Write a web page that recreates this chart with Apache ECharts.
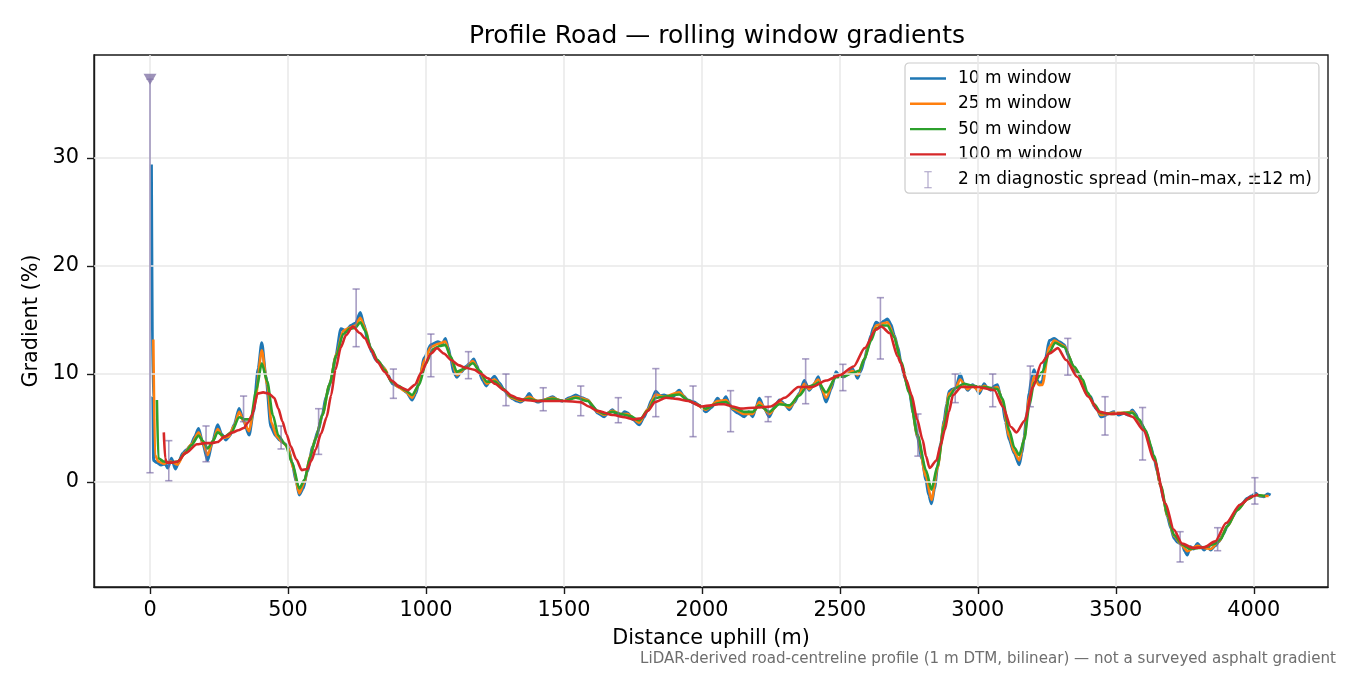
<!DOCTYPE html>
<html>
<head>
<meta charset="utf-8">
<script src="https://cdn.jsdelivr.net/npm/echarts@6/dist/echarts.min.js"></script>
<style>html,body{margin:0;padding:0;background:#fff}#c{width:1350px;height:675px}</style>
</head>
<body>
<div id="c"></div>
<script>
// ---- data (distance m, gradient %) ----
const win10 = [[5,29.4],[10,8],[13,2.0],[25,1.8],[40,1.57],[55,1.7],[64,1.3],[78,2.2],[92,1.2],[105,1.9],[118,2.65],[133,3.0],[148,3.4],[162,4.2],[176,4.95],[192,3.5],[209,2.0],[225,3.6],[245,5.3],[260,4.4],[275,3.9],[290,4.3],[305,5.3],[323,6.8],[340,5.6],[359,4.35],[375,6.5],[392,10.5],[405,12.9],[420,9.8],[438,5.1],[455,4.3],[469,3.9],[485,3.6],[499,3.3],[515,1.8],[530,0.0],[541,-1.2],[555,-0.6],[570,1.0],[590,3.3],[610,4.8],[625,6.3],[638,7.9],[656,9.4],[672,11.5],[692,14.2],[710,14.0],[728,14.5],[745,14.7],[762,15.7],[775,14.6],[789,13.1],[804,12.0],[819,11.3],[832,11.0],[843,10.7],[860,10.0],[879,9.1],[895,8.9],[910,8.7],[930,8.3],[950,7.6],[963,8.2],[976,9.4],[994,11.5],[1018,12.7],[1043,13.0],[1060,12.8],[1070,13.3],[1080,12.5],[1091,11.3],[1100,10.2],[1112,9.7],[1128,10.2],[1145,10.7],[1160,11.0],[1173,11.4],[1184,10.8],[1194,10.1],[1206,9.4],[1218,8.9],[1233,9.4],[1248,9.8],[1265,9.2],[1284,8.5],[1300,8.0],[1314,7.7],[1330,7.5],[1344,7.4],[1360,7.7],[1374,8.2],[1390,7.6],[1404,7.4],[1430,7.6],[1459,7.9],[1478,7.6],[1495,7.5],[1520,7.8],[1543,8.05],[1565,7.8],[1586,7.6],[1605,7.0],[1622,6.4],[1646,6.05],[1660,6.4],[1676,6.7],[1690,6.3],[1706,6.2],[1720,6.5],[1731,6.4],[1750,5.8],[1773,5.3],[1790,6.0],[1803,6.7],[1818,7.6],[1833,8.4],[1848,8.0],[1863,8.05],[1890,7.8],[1918,8.5],[1933,8.0],[1948,7.6],[1972,7.4],[1990,7.1],[2014,6.5],[2035,6.9],[2057,7.75],[2072,7.3],[2087,7.9],[2100,7.2],[2112,6.7],[2130,6.4],[2154,6.05],[2170,6.5],[2184,6.05],[2195,6.8],[2208,7.75],[2225,6.9],[2244,6.05],[2262,6.9],[2281,7.6],[2300,7.2],[2317,6.7],[2335,7.4],[2353,8.2],[2371,9.4],[2389,8.5],[2405,9.0],[2422,9.75],[2435,8.5],[2450,7.4],[2468,8.6],[2486,10.2],[2500,9.8],[2516,9.75],[2530,10.0],[2546,10.5],[2556,10.0],[2564,9.6],[2576,10.3],[2589,11.3],[2600,12.4],[2613,13.6],[2622,14.3],[2631,14.8],[2645,14.6],[2660,14.9],[2673,15.1],[2685,14.6],[2697,13.6],[2710,12.5],[2722,11.0],[2736,9.6],[2751,8.5],[2766,6.4],[2781,4.2],[2797,2.2],[2812,0.2],[2822,-1.2],[2832,-2.0],[2843,-0.6],[2854,1.4],[2866,3.6],[2878,5.7],[2887,7.2],[2896,8.4],[2908,8.6],[2920,8.7],[2936,10.0],[2950,9.0],[2963,8.5],[2981,9.0],[2993,8.7],[3005,8.2],[3023,9.1],[3035,8.7],[3047,8.5],[3060,8.9],[3071,9.0],[3080,8.2],[3089,7.3],[3100,5.6],[3114,3.9],[3132,2.65],[3150,1.6],[3160,2.7],[3168,4.2],[3177,6.2],[3186,8.2],[3196,9.8],[3204,10.4],[3216,9.4],[3225,9.0],[3234,9.4],[3246,11.5],[3259,13.1],[3277,13.3],[3295,13.0],[3313,12.7],[3330,11.6],[3349,10.4],[3367,10.0],[3382,8.8],[3397,8.05],[3409,7.9],[3422,7.0],[3433,6.67],[3446,6.05],[3457,6.1],[3470,6.3],[3494,6.5],[3510,6.2],[3530,6.36],[3545,6.2],[3560,6.67],[3572,6.3],[3584,5.6],[3596,5.2],[3608,4.66],[3625,3.4],[3639,2.2],[3650,1.0],[3663,-0.43],[3675,-1.8],[3687,-3.2],[3700,-4.3],[3711,-5.2],[3725,-5.6],[3741,-5.8],[3750,-6.4],[3759,-6.76],[3770,-6.0],[3782,-6.2],[3796,-5.7],[3808,-6.0],[3820,-6.3],[3832,-6.0],[3844,-6.3],[3860,-5.9],[3874,-5.5],[3890,-4.8],[3904,-4.1],[3920,-3.3],[3940,-2.6],[3958,-2.0],[3977,-1.5],[3992,-1.3],[4007,-1.05],[4020,-1.3],[4037,-1.36],[4050,-1.1],[4061,-1.2]];

const win25 = [[12,13.2],[18,2.5],[30,1.9],[50,1.7],[75,1.9],[100,1.6],[125,2.7],[150,3.5],[176,4.6],[192,3.6],[209,2.5],[228,3.8],[245,4.9],[265,4.1],[285,4.2],[305,5.2],[323,6.5],[340,5.6],[359,4.7],[380,7.3],[405,12.2],[425,9.0],[440,5.5],[460,4.2],[480,3.7],[500,3.2],[520,1.2],[541,-1.05],[560,0.0],[580,2.4],[600,4.0],[625,6.2],[650,9.0],[675,11.8],[700,14.0],[725,14.3],[745,14.5],[762,15.2],[780,14.2],[800,12.3],[825,11.2],[850,10.5],[875,9.3],[900,8.8],[925,8.4],[950,7.8],[970,8.8],[994,11.3],[1018,12.5],[1045,12.8],[1070,13.0],[1090,11.5],[1112,9.9],[1140,10.5],[1170,11.2],[1195,10.2],[1220,9.1],[1248,9.5],[1280,8.6],[1310,7.8],[1344,7.5],[1374,7.9],[1404,7.5],[1459,7.8],[1495,7.5],[1543,7.9],[1586,7.6],[1622,6.5],[1646,6.2],[1676,6.6],[1706,6.3],[1731,6.3],[1773,5.5],[1803,6.7],[1833,8.1],[1863,7.9],[1918,8.3],[1948,7.6],[1972,7.3],[2014,6.7],[2057,7.5],[2087,7.6],[2112,6.8],[2154,6.3],[2184,6.3],[2208,7.4],[2244,6.3],[2281,7.4],[2317,6.9],[2353,8.1],[2371,9.1],[2389,8.6],[2422,9.5],[2450,7.8],[2486,9.9],[2516,9.8],[2546,10.3],[2564,9.9],[2589,11.4],[2613,13.4],[2631,14.5],[2673,14.8],[2697,13.5],[2722,11.0],[2751,8.4],[2781,4.3],[2812,0.5],[2832,-1.67],[2854,1.3],[2878,5.5],[2896,8.2],[2920,8.7],[2936,9.5],[2963,8.6],[2981,8.9],[3005,8.4],[3023,8.9],[3047,8.6],[3071,8.8],[3089,7.5],[3114,4.2],[3132,2.8],[3150,2.0],[3168,4.0],[3186,7.8],[3204,9.8],[3220,9.0],[3234,9.0],[3259,12.5],[3277,13.1],[3313,12.6],[3349,10.6],[3367,10.0],[3397,8.2],[3422,7.1],[3446,6.2],[3494,6.4],[3530,6.4],[3560,6.5],[3584,5.7],[3608,4.7],[3639,2.3],[3663,-0.4],[3687,-3.1],[3711,-5.0],[3741,-5.9],[3759,-6.4],[3796,-5.9],[3820,-6.1],[3844,-6.2],[3874,-5.5],[3904,-4.1],[3940,-2.6],[3977,-1.6],[4007,-1.2],[4037,-1.3],[4054,-1.3]];

const win50 = [[25,7.6],[30,2.2],[50,1.9],[75,1.8],[100,1.9],[125,2.6],[150,3.4],[176,4.3],[192,3.8],[209,3.1],[228,3.8],[245,4.6],[270,4.2],[295,4.6],[323,6.0],[345,5.8],[365,5.8],[385,8.5],[405,11.0],[425,9.3],[445,6.2],[465,4.3],[490,3.5],[515,1.8],[541,-0.6],[560,0.2],[580,2.3],[600,4.0],[625,6.2],[650,9.0],[675,11.7],[700,13.7],[725,14.2],[745,14.3],[762,14.8],[780,14.0],[800,12.4],[825,11.3],[850,10.4],[875,9.3],[900,8.9],[925,8.5],[950,8.06],[975,9.0],[1000,11.0],[1025,12.3],[1050,12.6],[1070,12.7],[1090,11.6],[1112,10.2],[1140,10.5],[1170,11.0],[1195,10.3],[1220,9.3],[1250,9.3],[1280,8.6],[1310,7.9],[1344,7.6],[1374,7.7],[1404,7.5],[1460,7.7],[1500,7.5],[1543,7.8],[1586,7.5],[1622,6.6],[1646,6.3],[1676,6.5],[1706,6.3],[1740,6.1],[1773,5.7],[1803,6.6],[1833,7.8],[1863,7.9],[1918,8.1],[1948,7.6],[1980,7.2],[2014,6.8],[2057,7.3],[2087,7.4],[2112,6.9],[2154,6.5],[2184,6.5],[2208,7.1],[2244,6.5],[2281,7.2],[2317,7.1],[2353,8.0],[2380,8.8],[2410,9.0],[2422,9.2],[2450,8.3],[2486,9.7],[2516,9.8],[2546,10.1],[2570,10.3],[2589,11.4],[2613,13.1],[2631,14.2],[2655,14.5],[2673,14.5],[2697,13.4],[2722,11.1],[2751,8.3],[2781,4.4],[2812,1.1],[2832,-0.7],[2854,1.5],[2878,5.2],[2896,7.9],[2920,8.7],[2950,9.1],[2981,8.9],[3023,8.8],[3071,8.6],[3089,7.7],[3114,4.8],[3132,3.2],[3150,2.5],[3168,3.9],[3186,7.0],[3204,9.2],[3234,10.2],[3259,12.0],[3280,12.9],[3313,12.5],[3349,10.7],[3380,9.5],[3397,8.3],[3422,7.2],[3446,6.4],[3494,6.3],[3530,6.4],[3560,6.4],[3584,5.8],[3608,4.8],[3639,2.4],[3663,-0.3],[3687,-3.0],[3711,-4.9],[3741,-5.8],[3770,-6.2],[3800,-6.1],[3830,-6.0],[3860,-5.7],[3880,-5.3],[3904,-4.1],[3940,-2.6],[3977,-1.6],[4007,-1.2],[4041,-1.3]];

const win100 = [[50,4.6],[55,2.2],[60,1.8],[80,1.8],[100,1.9],[130,2.7],[170,3.5],[200,3.6],[220,3.6],[245,3.7],[270,4.2],[300,4.6],[320,4.8],[340,5.0],[355,5.5],[370,6.2],[390,8.2],[410,8.3],[430,8.2],[450,7.8],[465,6.8],[480,5.6],[495,4.4],[510,3.3],[530,2.1],[550,1.1],[570,1.2],[585,2.0],[600,3.0],[620,4.5],[640,6.0],[656,8.0],[672,10.4],[692,12.5],[710,13.6],[735,14.4],[760,13.8],[780,13.3],[800,12.3],[825,11.1],[850,10.2],[875,9.4],[905,8.8],[934,8.5],[960,9.0],[982,10.1],[1018,11.9],[1040,12.4],[1065,11.9],[1091,11.3],[1120,10.8],[1140,10.6],[1175,10.4],[1200,10.0],[1225,9.6],[1250,9.1],[1284,8.5],[1310,8.0],[1332,7.75],[1360,7.6],[1400,7.5],[1450,7.5],[1500,7.5],[1560,7.4],[1590,7.0],[1620,6.6],[1680,6.2],[1720,6.0],[1750,5.8],[1780,5.9],[1805,6.6],[1830,7.4],[1870,7.8],[1910,7.7],[1950,7.5],[2000,7.0],[2033,7.1],[2060,7.2],[2080,7.2],[2110,7.0],[2140,6.8],[2200,6.9],[2250,7.0],[2300,7.8],[2350,8.8],[2400,8.8],[2450,9.4],[2500,9.9],[2550,10.7],[2590,12.4],[2630,14.1],[2650,14.4],[2680,13.8],[2710,11.6],[2721,11.0],[2740,9.5],[2760,8.05],[2780,5.8],[2800,3.9],[2812,2.4],[2825,1.3],[2850,2.0],[2865,3.4],[2880,4.8],[2895,6.5],[2910,8.05],[2940,8.8],[3000,8.8],[3060,8.5],[3090,7.0],[3120,5.1],[3140,4.6],[3170,5.7],[3200,8.8],[3230,11.0],[3260,11.9],[3290,12.4],[3320,11.3],[3360,9.75],[3400,7.9],[3440,6.5],[3480,6.3],[3530,6.36],[3560,6.05],[3600,4.8],[3640,2.0],[3680,-2.0],[3710,-4.4],[3740,-5.7],[3780,-6.1],[3820,-6.05],[3860,-5.5],[3900,-3.8],[3950,-2.1],[3990,-1.36],[4016,-1.14]];

// 2 m diagnostic spread: [distance, min, max]
const spread = [[0,0.86,37.3],[68,0.12,3.83],[203,1.88,5.19],[339,5.59,7.96],[475,3.06,5.19],[611,2.56,6.79],[747,12.53,17.87],[882,7.75,10.46],[1018,9.75,13.7],[1154,9.57,12.07],[1290,7.07,10.0],[1425,6.6,8.73],[1561,6.14,8.89],[1697,5.49,7.81],[1833,6.05,10.5],[1968,4.2,8.89],[2104,4.66,8.46],[2240,5.59,7.9],[2376,7.25,11.4],[2511,8.46,10.9],[2647,11.39,17.07],[2783,2.4,6.3],[2918,7.35,10.0],[3054,6.97,10.0],[3190,6.97,10.74],[3326,9.9,13.3],[3461,4.35,7.9],[3597,2.04,6.9],[3733,-7.4,-4.6],[3869,-6.36,-4.23],[4004,-2.04,0.4]];
const clipped = [[0,37.3]];

const xTicks = [0,500,1000,1500,2000,2500,3000,3500,4000];
const yTicks = [0,10,20,30];
const names = ['10 m window','25 m window','50 m window','100 m window','2 m diagnostic spread (min\u2013max, \u00b112 m)'];

const FONT = 'DejaVu Sans';
const SPREAD_COLOR = 'rgba(120,104,165,0.65)';
const LINE_ICON = 'path://M0,0h30v2h-30z';

const chart = echarts.init(document.getElementById('c'), null, {renderer:'canvas'});

function lineSeries(name, data, color, z, width) {
  return {
    name, type:'line', data, symbol:'none', smooth:0.25, smoothMonotone:'x',
    lineStyle:{color, width}, itemStyle:{color}, z, animation:false
  };
}

const option = {
  animation:false,
  backgroundColor:'#fff',
  textStyle:{fontFamily:FONT},
  title:{
    text:'Profile Road \u2014 rolling window gradients',
    left:464, top:19,
    textStyle:{fontFamily:FONT, fontSize:25, fontWeight:'normal', color:'#000'}
  },
  grid:{left:94, right:22, top:55, bottom:88, show:true, borderColor:'#1a1a1a', borderWidth:1.4, backgroundColor:'transparent'},
  xAxis:{
    type:'value', min:-203, max:4269,
    name:'Distance uphill (m)', nameLocation:'middle', nameGap:41,
    nameTextStyle:{fontFamily:FONT, fontSize:20.8, color:'#000'},
    axisLine:{show:true, onZero:false, lineStyle:{color:'#1a1a1a', width:1.4}},
    axisTick:{show:true, length:7, lineStyle:{color:'#1a1a1a', width:1.4}, customValues:xTicks},
    axisLabel:{fontFamily:FONT, fontSize:20.8, color:'#000', margin:13, customValues:xTicks, formatter:v=>String(v)},
    splitLine:{show:false}
  },
  yAxis:{
    type:'value', min:-9.72, max:39.54,
    name:'Gradient (%)', nameLocation:'middle', nameGap:51,
    nameTextStyle:{fontFamily:FONT, fontSize:20.8, color:'#000'},
    axisLine:{show:true, onZero:false, lineStyle:{color:'#1a1a1a', width:1.4}},
    axisTick:{show:true, length:7, lineStyle:{color:'#1a1a1a', width:1.4}, customValues:yTicks},
    axisLabel:{fontFamily:FONT, fontSize:20.8, color:'#000', margin:15, customValues:yTicks, formatter:v=>String(v)},
    splitLine:{show:false}
  },
  legend:{
    orient:'vertical', left:905, top:63,
    itemWidth:36, itemHeight:17, itemGap:8.3,
    padding:[7,7,5,5],
    symbolKeepAspect:true,
    backgroundColor:'rgba(255,255,255,0.85)', borderColor:'#cccccc', borderWidth:1.2, borderRadius:4,
    textStyle:{fontFamily:FONT, fontSize:17, color:'#000', padding:[0,0,0,7]},
    data:[
      {name:names[0], icon:LINE_ICON},{name:names[1], icon:LINE_ICON},{name:names[2], icon:LINE_ICON},{name:names[3], icon:LINE_ICON},
      {name:names[4], icon:'path://M0,0h7v1h-7z M3,1h1v14h-1z M0,15h7v1h-7z', itemStyle:{color:SPREAD_COLOR}}
    ]
  },
  graphic:[{
    type:'text', right:14, top:652,
    style:{text:'LiDAR-derived road-centreline profile (1 m DTM, bilinear) \u2014 not a surveyed asphalt gradient',
      fontFamily:FONT, fontSize:15.1, fill:'#6e6e6e'}
  }],
  series:[
    {
      name:'grid', type:'line', data:[], z:0, silent:true,
      markLine:{
        silent:true, symbol:'none', label:{show:false}, animation:false,
        lineStyle:{color:'#e8e8e8', width:1.5, type:'solid'},
        emphasis:{disabled:true},
        data: xTicks.map(v=>({xAxis:v})).concat(yTicks.map(v=>({yAxis:v})))
      }
    },
    {
      name:names[4], type:'custom', z:5, animation:false,
      itemStyle:{color:SPREAD_COLOR},
      encode:{x:0, y:[1,2]},
      data:spread,
      renderItem:function(params, api){
        const x = api.value(0), lo = api.value(1), hi = api.value(2);
        const a = api.coord([x, lo]), b = api.coord([x, hi]);
        const w = 3.6;
        const st = {stroke:SPREAD_COLOR, lineWidth:1.6, fill:null};
        return {type:'group', children:[
          {type:'line', shape:{x1:a[0], y1:a[1], x2:b[0], y2:b[1]}, style:st},
          {type:'line', shape:{x1:a[0]-w, y1:a[1], x2:a[0]+w, y2:a[1]}, style:st},
          {type:'line', shape:{x1:b[0]-w, y1:b[1], x2:b[0]+w, y2:b[1]}, style:st}
        ]};
      }
    },
    lineSeries(names[0], win10, '#1f77b4', 2, 3),
    lineSeries(names[1], win25, '#ff7f0e', 3, 2.6),
    lineSeries(names[2], win50, '#2ca02c', 4, 2.6),
    lineSeries(names[3], win100, '#d62728', 5, 2.6),
    {
      name:'clipped', type:'scatter', data:clipped, symbol:'triangle', symbolRotate:180, symbolSize:[13,11],
      itemStyle:{color:'#8577a8'}, z:6, silent:true
    }
  ]
};
chart.setOption(option);
</script>
</body>
</html>
